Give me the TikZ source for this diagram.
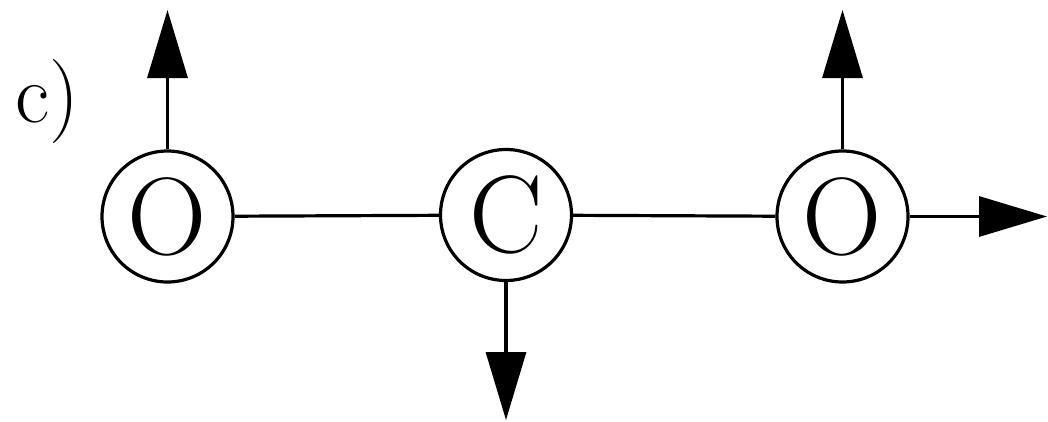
\documentclass[tikz,border=0pt]{standalone}
\usetikzlibrary{arrows.meta}
\begin{document}
\begin{tikzpicture}[x=1pt,y=-1pt,
  atom/.style={circle,draw,line width=3.2pt,minimum size=131pt,inner sep=0pt,
    font=\fontsize{110}{110}\selectfont},
  bond/.style={line width=3.2pt},
  vec/.style={line width=3.2pt,-{Triangle[length=68pt,width=40pt]}}]
\useasboundingbox (0,0) rectangle (1048,421);
\node[anchor=base,font=\fontsize{84}{84}\selectfont] (lab) at (47,122) {c)};
\node[atom] (O1) at (167.5,216.5) {O};
\node[atom] (C) at (506,215) {C};
\node[atom] (O2) at (842.5,216.5) {O};
\coordinate (t1) at (167.5,10);
\coordinate (t2) at (842.5,10);
\coordinate (t3) at (506,420);
\coordinate (t4) at (1047,216.5);
\draw[bond] (O1) -- (C);
\draw[bond] (C) -- (O2);
\draw[vec] (O1.north) -- (t1);
\draw[vec] (O2.north) -- (t2);
\draw[vec] (C.south) -- (t3);
\draw[vec] (O2.east) -- (t4);
\end{tikzpicture}
\end{document}
